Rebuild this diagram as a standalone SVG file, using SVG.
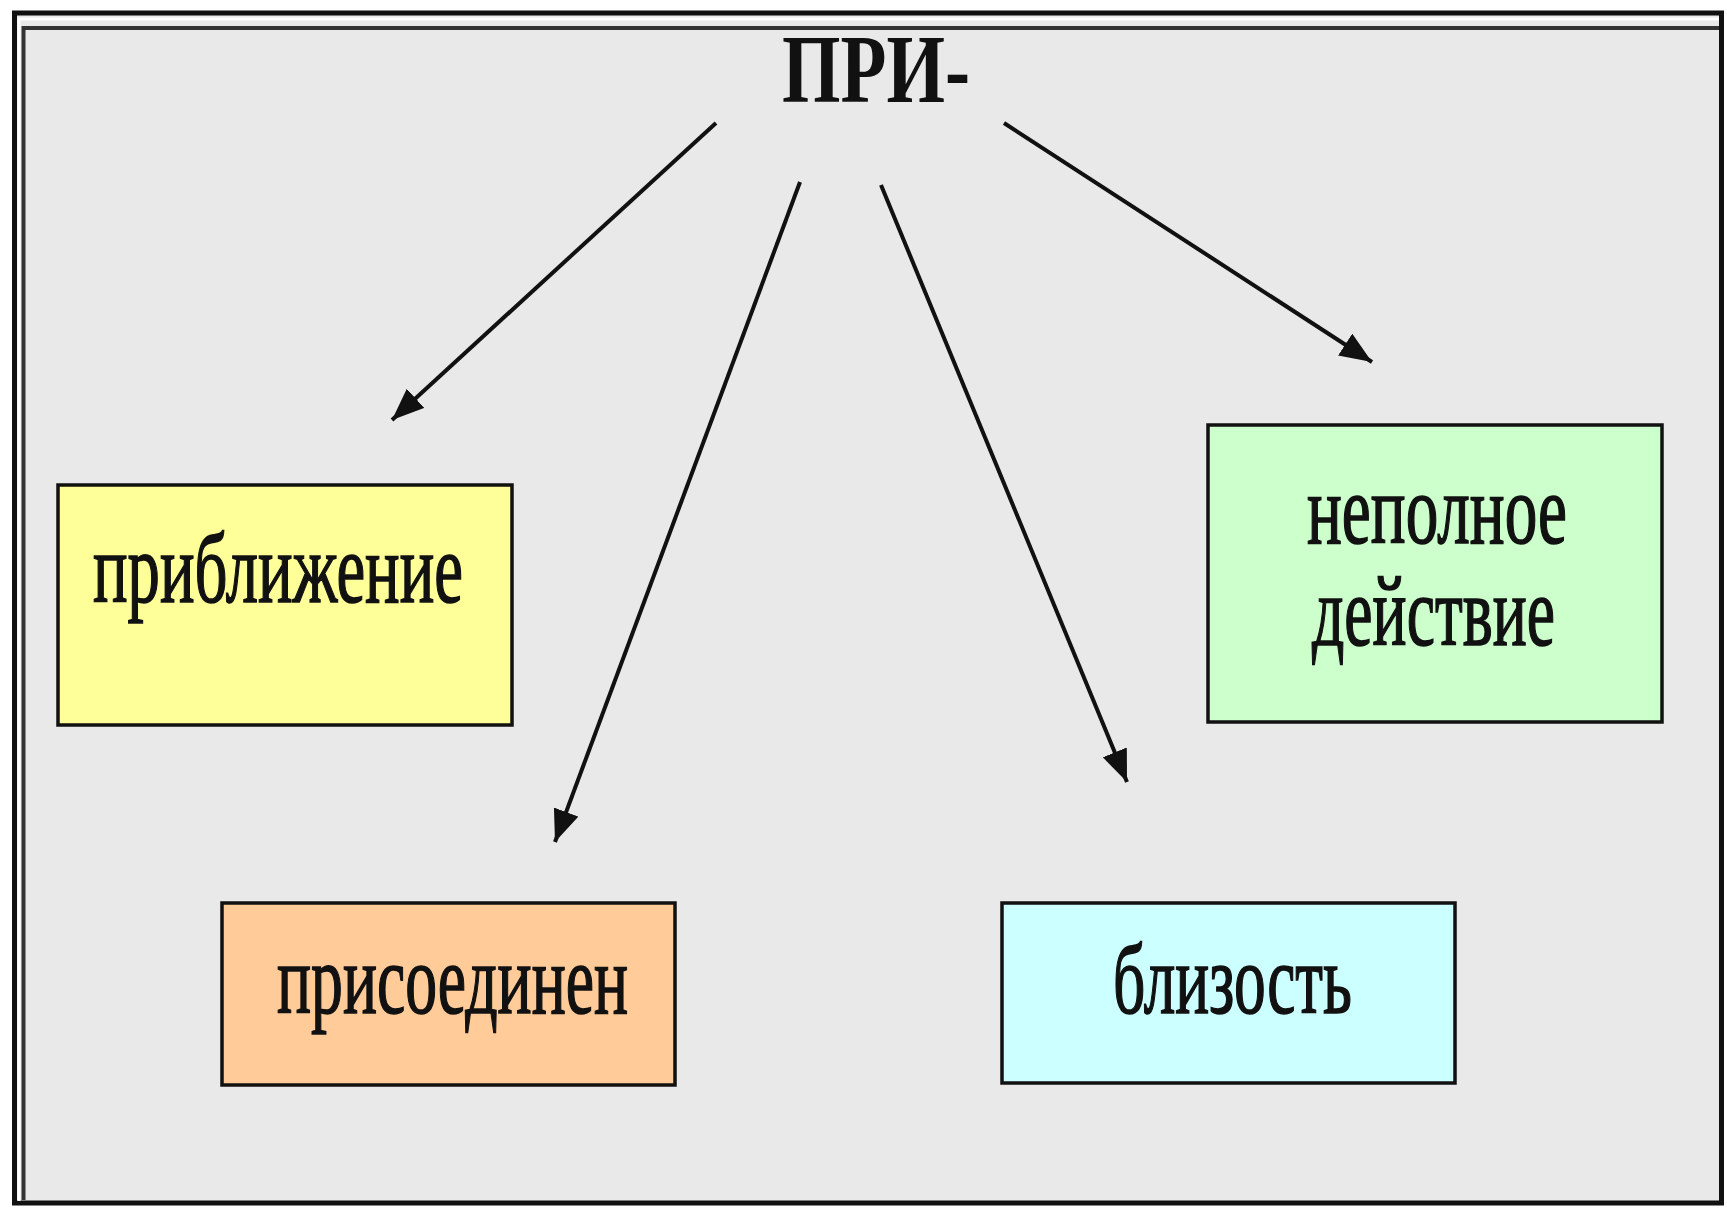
<svg xmlns="http://www.w3.org/2000/svg" width="1727" height="1214" viewBox="0 0 1727 1214">
<style>
.box{stroke:#111;stroke-width:3.5}
.lbl{font-family:"Liberation Serif","Times New Roman",serif;font-size:100px;fill:#111;stroke:#111;stroke-width:1.6;text-anchor:start}
.conn{stroke:#111;stroke-width:4;fill:none;marker-end:url(#ah)}
</style>
<defs>
<marker id="ah" markerUnits="userSpaceOnUse" markerWidth="36" markerHeight="28" refX="32" refY="13" orient="auto">
<path d="M0,0 L32,13 L0,26 Z" fill="#111"/>
</marker>
</defs>
<rect x="0" y="0" width="1727" height="1214" fill="#ffffff"/>
<rect x="14.5" y="13" width="1707" height="1190" fill="#e9e9e9" stroke="#111" stroke-width="5"/>
<path d="M19,1201 V19 H1719" fill="none" stroke="#ffffff" stroke-width="3"/>
<path d="M23.5,1200 V28 H1719" fill="none" stroke="#333" stroke-width="4"/>
<g id="title">
<text x="782" y="102" font-family="'Liberation Serif','Times New Roman',serif" font-size="98" font-weight="bold" fill="#111" textLength="188" lengthAdjust="spacingAndGlyphs">ПРИ-</text>
</g>
<g id="connectors">
<line class="conn" x1="716" y1="123" x2="392" y2="420"/>
<line class="conn" x1="800" y1="182" x2="555" y2="842"/>
<line class="conn" x1="881" y1="185" x2="1127" y2="782"/>
<line class="conn" x1="1004" y1="123" x2="1372" y2="362"/>
</g>
<g id="node-priblizhenie">
<rect class="box" x="58" y="485" width="454" height="240" fill="#ffff99"/>
<text class="lbl" x="93" y="602" textLength="370" lengthAdjust="spacingAndGlyphs">приближение</text>
</g>
<g id="node-nepolnoe">
<rect class="box" x="1208" y="425" width="454" height="297" fill="#ccffcc"/>
<text class="lbl" x="1307" y="543" textLength="260" lengthAdjust="spacingAndGlyphs">неполное</text>
<text class="lbl" x="1312" y="645" textLength="243" lengthAdjust="spacingAndGlyphs">действие</text>
</g>
<g id="node-prisoedinen">
<rect class="box" x="222" y="903" width="453" height="182" fill="#ffcc99"/>
<text class="lbl" x="277" y="1013" textLength="351" lengthAdjust="spacingAndGlyphs">присоединен</text>
</g>
<g id="node-blizost">
<rect class="box" x="1002" y="903" width="453" height="180" fill="#ccffff"/>
<text class="lbl" x="1113" y="1013" textLength="239" lengthAdjust="spacingAndGlyphs">близость</text>
</g>
</svg>
